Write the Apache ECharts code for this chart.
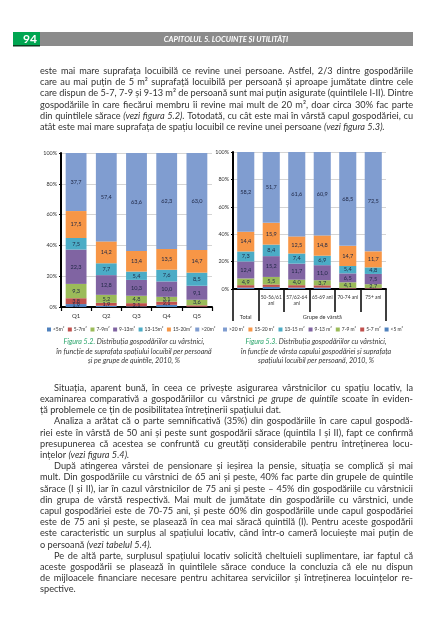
<!DOCTYPE html>
<html><head><meta charset="utf-8">
<script src="https://cdn.jsdelivr.net/npm/echarts@6/dist/echarts.min.js"></script>
<style>html,body{margin:0;padding:0;background:#fff}#c{width:440px;height:640px}</style>
</head><body><div id="c"></div>
<script>
// ---------- DATA ----------
const quintiles = ['Q1','Q2','Q3','Q4','Q5'];
const q_lt5   = [1.9, 0.8, 0.4, 1.4, 0.2];
const q_5_7   = [3.8, 1.9, 2.1, 2.1, 0.9];
const q_7_9   = [9.3, 5.2, 4.8, 3.1, 3.6];
const q_9_13  = [22.3, 12.8, 10.3, 10.0, 9.1];
const q_13_15 = [7.5, 7.7, 5.4, 7.6, 8.5];
const q_15_20 = [17.5, 14.2, 13.4, 13.5, 14.7];
const q_gt20  = [37.7, 57.4, 63.6, 62.3, 63.0];

const ageGroups = ['Total','50-56/61\nani','57/62-64\nani','65-69 ani','70-74 ani','75+ ani'];
const ageLevel1 = ['Total','','','Grupe de vârstă','',''];
const a_lt5   = [1.0, 1.5, 1.0, 1.0, 0.3, 0.3];
const a_5_7   = [1.8, 1.8, 1.8, 1.7, 0.5, 0.5];
const a_7_9   = [4.9, 5.5, 4.0, 3.7, 4.1, 2.7];
const a_9_13  = [12.4, 15.2, 11.7, 11.0, 6.5, 7.5];
const a_13_15 = [7.3, 8.4, 7.4, 6.9, 5.4, 4.8];
const a_15_20 = [14.4, 15.9, 12.5, 14.8, 14.7, 11.7];
const a_gt20  = [58.2, 51.7, 61.6, 60.9, 68.5, 72.5];

const namesLeft  = ['<5m²','5-7m²','7-9m²','9-13m²','13-15m²','15-20m²','>20m²'];
const namesRight = ['<5 m²','5-7 m²','7-9 m²','9-13 m²','13-15 m²','15-20 m²','>20 m²'];
const colors = ['#4F81BD','#C0504D','#9BBB59','#8064A2','#4BACC6','#F79646','#809DD0'];

const headerNumber = '94';
const headerTitle = 'CAPITOLUL 5. LOCUINȚE ȘI UTILITĂȚI';

const para1 = [
 'este mai mare suprafața locuibilă ce revine unei persoane. Astfel, 2/3 dintre gospodăriile',
 'care au mai puțin de 5 m² suprafață locuibilă per persoană și aproape jumătate dintre cele',
 'care dispun de 5-7, 7-9 și 9-13 m² de persoană sunt mai puțin asigurate (quintilele I-II). Dintre',
 'gospodăriile în care fiecărui membru îi revine mai mult de 20 m², doar circa 30% fac parte',
 'din quintilele sărace ^(vezi ^figura ^5.2). Totodată, cu cât este mai în vârstă capul gospodăriei, cu',
 'atât este mai mare suprafața de spațiu locuibil ce revine unei persoane ^(vezi ^figura ^5.3).'
];
const para1Last = [5];
const para2 = [
 'Situația, aparent bună, în ceea ce privește asigurarea vârstnicilor cu spațiu locativ, la',
 'examinarea comparativă a gospodăriilor cu vârstnici ^pe ^grupe ^de ^quintile scoate în eviden-',
 'ță problemele ce țin de posibilitatea întreținerii spațiului dat.',
 'Analiza a arătat că o parte semnificativă (35%) din gospodăriile în care capul gospodă-',
 'riei este în vârstă de 50 ani și peste sunt gospodării sărace (quintila I și II), fapt ce confirmă',
 'presupunerea că acestea se confruntă cu greutăți considerabile pentru întreținerea locu-',
 'ințelor ^(vezi ^figura ^5.4).',
 'După atingerea vârstei de pensionare și ieșirea la pensie, situația se complică și mai',
 'mult. Din gospodăriile cu vârstnici de 65 ani și peste, 40% fac parte din grupele de quintile',
 'sărace (I și II), iar în cazul vârstnicilor de 75 ani și peste – 45% din gospodăriile cu vârstnicii',
 'din grupa de vârstă respectivă. Mai mult de jumătate din gospodăriile cu vârstnici, unde',
 'capul gospodăriei este de 70-75 ani, și peste 60% din gospodăriile unde capul gospodăriei',
 'este de 75 ani și peste, se plasează în cea mai săracă quintilă (I). Pentru aceste gospodării',
 'este caracteristic un surplus al spațiului locativ, când într-o cameră locuiește mai puțin de',
 'o persoană ^(vezi ^tabelul ^5.4).',
 'Pe de altă parte, surplusul spațiului locativ solicită cheltuieli suplimentare, iar faptul că',
 'aceste gospodării se plasează în quintilele sărace conduce la concluzia că ele nu dispun',
 'de mijloacele financiare necesare pentru achitarea serviciilor și întreținerea locuințelor re-',
 'spective.'
];
const para2Indent = [0, 3, 7, 15];
const para2Last = [2, 6, 14, 18];

const cap52 = ['{g|Figura 5.2.} Distribuția gospodăriilor cu vârstnici,',
  'în funcție de suprafața spațiului locuibil per persoană',
  'și pe grupe de quintile, 2010, %'];
const cap53 = ['{g|Figura 5.3.} Distribuția gospodăriilor cu vârstnici,',
  'în funcție de vârsta capului gospodăriei și suprafața',
  'spațiului locuibil per persoană, 2010, %'];

// ---------- TEXT HELPERS ----------
const BODY_FAMILY = 'Lato';
const BS = 9.2;
const TEXT_COLOR = '#333';
const mctx = document.createElement('canvas').getContext('2d');
function fstr(it){ return (it ? 'italic ' : '') + BS + 'px ' + BODY_FAMILY; }
function lineEls(str, x0, x1, y, justify){
  const toks = str.split(' ').filter(w => w.length).map(w => {
    const it = w.startsWith('^');
    const s = it ? w.slice(1) : w;
    mctx.font = fstr(it);
    return {s, it, w: mctx.measureText(s).width};
  });
  mctx.font = fstr(false);
  const sp = mctx.measureText(' ').width;
  const sum = toks.reduce((a, t) => a + t.w, 0);
  const gap = (justify && toks.length > 1) ? (x1 - x0 - sum) / (toks.length - 1) : sp;
  let x = x0;
  return toks.map(t => {
    const el = {type:'text', x: x, y: y, silent:true,
      style:{text:t.s, font: fstr(t.it), fill: TEXT_COLOR, verticalAlign:'middle'}};
    x += t.w + gap;
    return el;
  });
}

const TX0 = 40, TX1 = 413, LH = 11.2;
let graphics = [];
// header
graphics.push({type:'rect', shape:{x:13, y:32, width:27, height:14}, style:{fill:'#00A651'}, silent:true});
graphics.push({type:'rect', shape:{x:13, y:45, width:27, height:1.5}, style:{fill:'#0d3b20'}, silent:true});
graphics.push({type:'rect', shape:{x:40, y:32, width:373, height:14}, style:{fill:'#8b8b8b'}, silent:true});
graphics.push({type:'text', x:37, y:39.5, silent:true, style:{text:headerNumber, font:'bold 12px Lato', fill:'#fff', align:'right', verticalAlign:'middle'}});
graphics.push({type:'text', x:226, y:39.5, silent:true, style:{text:headerTitle, font:'italic bold 7.6px Lato', fill:'#fff', align:'center', verticalAlign:'middle'}});
// paragraph 1
para1.forEach((l, i) => { graphics = graphics.concat(lineEls(l, TX0, TX1, 71 + i * LH, para1Last.indexOf(i) < 0)); });
// paragraphs after the figures
para2.forEach((l, i) => {
  const x0 = para2Indent.indexOf(i) >= 0 ? TX0 + 14 : TX0;
  graphics = graphics.concat(lineEls(l, x0, TX1, 387.8 + i * LH, para2Last.indexOf(i) < 0));
});
// captions
function capEls(lines, cx){
  return lines.map((t, i) => ({type:'text', x:cx, y:342 + i * 9.5, silent:true,
    style:{text:t, font:'italic 7.1px Lato', fill:'#3a3a3a', align:'center', verticalAlign:'middle',
      rich:{g:{fill:'#2AA56B', font:'italic 7.1px Lato'}}}}));
}
graphics = graphics.concat(capEls(cap52, 134)).concat(capEls(cap53, 316));

// ---------- CHART ----------
const leftData = [q_lt5, q_5_7, q_7_9, q_9_13, q_13_15, q_15_20, q_gt20];
const rightData = [a_lt5, a_5_7, a_7_9, a_9_13, a_13_15, a_15_20, a_gt20];
function lbl(p){ return p.value >= 1.9 ? p.value.toFixed(1).replace('.', ',') : ''; }
const labelCfg = {show:true, position:'inside', formatter:lbl, fontSize:5.6, color:'#1e2745', fontFamily:'Lato'};
const series = [];
leftData.forEach((d, i) => series.push({type:'bar', name:namesLeft[i], stack:'L', xAxisIndex:0, yAxisIndex:0,
  data:d, barWidth:'69%', itemStyle:{color:colors[i]}, label:labelCfg}));
rightData.forEach((d, i) => series.push({type:'bar', name:namesRight[i], stack:'R', xAxisIndex:1, yAxisIndex:1,
  data:d, barWidth:'67%', itemStyle:{color:colors[i]}, label:labelCfg}));

const yAxisBase = {type:'value', min:0, max:100, interval:20,
  axisLine:{show:true, lineStyle:{color:'#000', width:2}},
  axisTick:{show:true, length:2, lineStyle:{color:'#000', width:1}},
  axisLabel:{formatter:'{value}%', fontSize:5.4, color:'#333', margin:4, fontFamily:'Lato'},
  splitLine:{lineStyle:{color:'#d4d4d4', width:1}}};

const legendText = {fontSize:4.9, color:'#333', fontFamily:'Lato', padding:[0,0,0,-3]};
const option = {
  animation:false,
  textStyle:{fontFamily:'Lato'},
  grid:[
    {left:61, top:153, width:151, height:154},
    {left:233, top:152, width:153, height:137}
  ],
  xAxis:[
    {type:'category', gridIndex:0, data:quintiles,
     axisLine:{lineStyle:{color:'#000', width:2}},
     axisTick:{show:true, length:4, lineStyle:{color:'#000', width:1.2}},
     axisLabel:{fontSize:6, color:'#333', margin:6, fontFamily:'Lato'}},
    {type:'category', gridIndex:1, data:ageGroups,
     axisLine:{lineStyle:{color:'#000', width:2}},
     axisTick:{show:true, length:23, lineStyle:{color:'#000', width:1.5}},
     axisLabel:{fontSize:4.9, color:'#333', margin:5, lineHeight:6.3, interval:0, fontFamily:'Lato',
       formatter:function(v, i){ return i === 0 ? '' : v; }}},
    {type:'category', gridIndex:1, position:'bottom', data:ageLevel1,
     axisLine:{show:false},
     axisTick:{show:true, length:32, interval:function(i){ return i === 0 || i === 1; }, lineStyle:{color:'#000', width:1.5}},
     axisLabel:{fontSize:5.6, color:'#333', margin:25, interval:0, fontFamily:'Lato'}}
  ],
  yAxis:[
    Object.assign({gridIndex:0}, yAxisBase),
    Object.assign({gridIndex:1}, yAxisBase)
  ],
  legend:[
    {data:namesLeft, left:47, top:327, itemWidth:4, itemHeight:4, itemGap:3.5, padding:0, icon:'rect',
     textStyle:legendText, selectedMode:false},
    {data:namesRight.slice().reverse(), left:223, top:327, itemWidth:4, itemHeight:4, itemGap:4, padding:0, icon:'rect',
     textStyle:legendText, selectedMode:false}
  ],
  series:series,
  graphic:graphics
};
const chart = echarts.init(document.getElementById('c'), null, {renderer:'canvas'});
chart.setOption(option);
</script>
</body></html>
